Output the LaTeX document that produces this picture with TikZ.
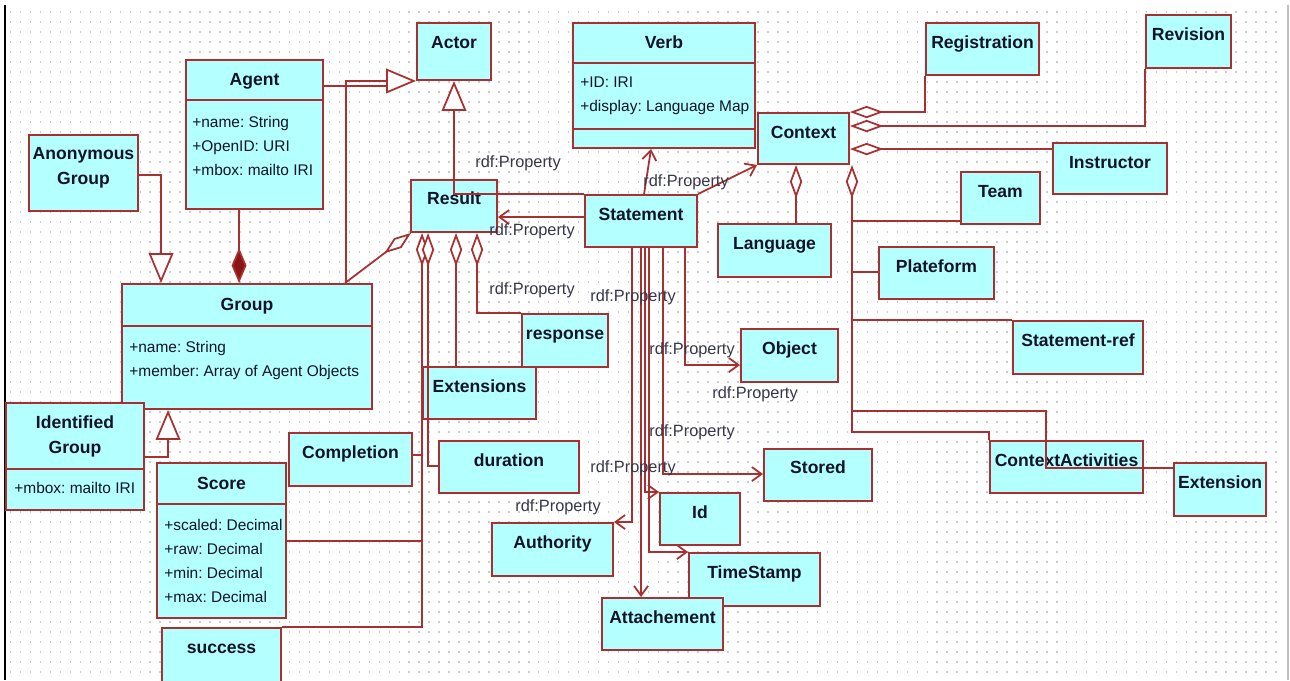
\documentclass[tikz,border=0pt]{standalone}
\usepackage{fontspec}
\setmainfont{Liberation Sans}
\usetikzlibrary{arrows.meta,calc,fit}
\frenchspacing

\definecolor{umlred}{RGB}{168,48,48}
\definecolor{umldark}{RGB}{140,20,20}
\definecolor{umlfill}{RGB}{180,255,255}
\definecolor{umltext}{RGB}{20,20,40}
\definecolor{rdftext}{RGB}{55,55,75}
\definecolor{dotgray}{RGB}{205,205,205}

\tikzset{
  cls/.style={draw=umlred, fill=umlfill, line width=1.1pt, inner sep=0pt},
  ttl/.style={font=\fontsize{10}{14}\selectfont\bfseries, text=umltext, anchor=base, inner sep=0pt},
  ttltwo/.style={font=\fontsize{10}{14.2}\selectfont\bfseries, text=umltext, anchor=north, inner sep=0pt, align=center},
  attr/.style={font=\fontsize{8.8}{13.6}\selectfont, text=umltext, anchor=north west, inner sep=0pt, align=left},
  rdf/.style={font=\fontsize{9.3}{11}\selectfont, text=rdftext, inner sep=0pt},
  link/.style={draw=umlred, line width=1pt},
  prop/.style={link, -{Straight Barb[length=5.5pt,width=8pt]}},
  isa/.style={link, -{Triangle[fill=white,length=17pt,width=14pt]}},
  agg/.style={link, {Diamond[fill=white,length=19pt,width=7pt]}-},
  comp/.style={link, {Diamond[fill=umldark,length=20pt,width=8.5pt]}-},
  dots/.style={draw=dotgray, line width=0.85pt, dash pattern=on 0.85pt off 4.82pt},
}

\begin{document}
\begin{tikzpicture}[x=0.02cm, y=-0.02cm]
\useasboundingbox (0,0) rectangle (1290,680);

% dotted canvas
\foreach \y in {12,22,...,672}
  \draw[dots] (10,\y) -- (1285,\y);
\draw[black, line width=1.2pt] (5,5) -- (5,680);
\draw[gray!50, line width=0.8pt] (1288,5) -- (1288,680);

% classes
\node (actor) [cls, fit={(417,23) (491,80)}] {};
\node (verb) [cls, fit={(573,23) (755,148)}] {};
\node (registration) [cls, fit={(926,23) (1039,75)}] {};
\node (revision) [cls, fit={(1146,15) (1231,68)}] {};
\node (context) [cls, fit={(758,113) (849,164)}] {};
\node (instructor) [cls, fit={(1053,143) (1167,194)}] {};
\node (team) [cls, fit={(961,172) (1040,224)}] {};
\node (agent) [cls, fit={(186,60) (323,209)}] {};
\node (anon) [cls, fit={(29,135) (138,211)}] {};
\node (result) [cls, fit={(411,180) (497,232)}] {};
\node (statement) [cls, fit={(585,195) (697,247)}] {};
\node (language) [cls, fit={(718,224) (831,277)}] {};
\node (plateform) [cls, fit={(879,247) (994,299)}] {};
\node (group) [cls, fit={(122,284) (372,409)}] {};
\node (response) [cls, fit={(522,314) (608,367)}] {};
\node (object) [cls, fit={(741,329) (838,382)}] {};
\node (stmtref) [cls, fit={(1013,321) (1143,374)}] {};
\node (extensions) [cls, fit={(423,367) (536,419)}] {};
\node (identified) [cls, fit={(6,403) (144,510)}] {};
\node (completion) [cls, fit={(289,433) (412,486)}] {};
\node (duration) [cls, fit={(439,441) (579,493)}] {};
\node (ctxact) [cls, fit={(990,441) (1143,493)}] {};
\node (stored) [cls, fit={(764,449) (872,501)}] {};
\node (score) [cls, fit={(157,463) (286,618)}] {};
\node (extension) [cls, fit={(1174,463) (1266,516)}] {};
\node (id) [cls, fit={(660,493) (740,545)}] {};
\node (authority) [cls, fit={(492,523) (613,576)}] {};
\node (timestamp) [cls, fit={(689,553) (820,606)}] {};
\node (attach) [cls, fit={(602,598) (723,650)}] {};
\node (success) [cls, fit={(162,628) (281,690)}] {};

% compartments
\draw[umlred, line width=1.1pt] (agent.west |- 0,100) -- (agent.east |- 0,100);
\draw[umlred, line width=1.1pt] (verb.west |- 0,63) -- (verb.east |- 0,63);
\draw[umlred, line width=1.1pt] (verb.west |- 0,129) -- (verb.east |- 0,129);
\draw[umlred, line width=1.1pt] (group.west |- 0,326) -- (group.east |- 0,326);
\draw[umlred, line width=1.1pt] (identified.west |- 0,469) -- (identified.east |- 0,469);
\draw[umlred, line width=1.1pt] (score.west |- 0,504) -- (score.east |- 0,504);

% titles
\node (actor-t) [ttl] at ($(actor.north)+(0,26)$) {Actor};
\node (verb-t) [ttl] at ($(verb.north)+(0,26)$) {Verb};
\node (registration-t) [ttl] at ($(registration.north)+(0,26)$) {Registration};
\node (revision-t) [ttl] at ($(revision.north)+(0,26)$) {Revision};
\node (context-t) [ttl] at ($(context.north)+(0,26)$) {Context};
\node (instructor-t) [ttl] at ($(instructor.north)+(0,26)$) {Instructor};
\node (team-t) [ttl] at ($(team.north)+(0,26)$) {Team};
\node (agent-t) [ttl] at ($(agent.north)+(0,26)$) {Agent};
\node (anon-t) [ttltwo] at ($(anon.north)+(0,13)$) {Anonymous\\Group};
\node (result-t) [ttl] at ($(result.north)+(0,25)$) {Result};
\node (statement-t) [ttl] at ($(statement.north)+(0,26)$) {Statement};
\node (language-t) [ttl] at ($(language.north)+(0,26)$) {Language};
\node (plateform-t) [ttl] at ($(plateform.north)+(0,26)$) {Plateform};
\node (group-t) [ttl] at ($(group.north)+(0,27)$) {Group};
\node (response-t) [ttl] at ($(response.north)+(0,26)$) {response};
\node (object-t) [ttl] at ($(object.north)+(0,26)$) {Object};
\node (stmtref-t) [ttl] at ($(stmtref.north)+(0,26)$) {Statement-ref};
\node (extensions-t) [ttl] at ($(extensions.north)+(0,26)$) {Extensions};
\node (identified-t) [ttltwo] at ($(identified.north)+(0,13)$) {Identified\\Group};
\node (completion-t) [ttl] at ($(completion.north)+(0,26)$) {Completion};
\node (duration-t) [ttl] at ($(duration.north)+(0,26)$) {duration};
\node (ctxact-t) [ttl] at ($(ctxact.north)+(0,26)$) {ContextActivities};
\node (stored-t) [ttl] at ($(stored.north)+(0,25)$) {Stored};
\node (score-t) [ttl] at ($(score.north)+(0,27)$) {Score};
\node (extension-t) [ttl] at ($(extension.north)+(0,26)$) {Extension};
\node (id-t) [ttl] at ($(id.north)+(0,26)$) {Id};
\node (authority-t) [ttl] at ($(authority.north)+(0,26)$) {Authority};
\node (timestamp-t) [ttl] at ($(timestamp.north)+(0,26)$) {TimeStamp};
\node (attach-t) [ttl] at ($(attach.north)+(0,26)$) {Attachement};
\node (success-t) [ttl] at ($(success.north)+(0,26)$) {success};

% attributes
\node (agent-a) [attr] at (192,116) {+name: String\\+OpenID: URI\\+mbox: mailto IRI};
\node (verb-a) [attr] at (580,77) {+ID: IRI\\+display: Language Map};
\node (group-a) [attr] at (129,341) {+name: String\\+member: Array of Agent Objects};
\node (identified-a) [attr] at (14,482) {+mbox: mailto IRI};
\node (score-a) [attr] at (164,519) {+scaled: Decimal\\+raw: Decimal\\+min: Decimal\\+max: Decimal};

% generalisations
\draw[link] ($(agent.north east)+(0,27)$) -- ++(65,0);
\draw[isa] ($(group.north west)+(225,0)$) |- (actor.south west);
\draw[isa] (statement.north west) -| (actor.south);
\draw[isa] ($(anon.north east)+(0,41)$) -| ($(group.north west)+(40,0)$);
\draw[isa] ($(identified.north east)+(0,55)$) -| ($(group.south west)+(47,0)$);

% composition and aggregations of Result
\draw[comp] ($(group.north west)+(118,0)$) -- ($(agent.south west)+(54,0)$);
\draw[agg] ($(result.south west)+(1,0)$) -- ($(group.north west)+(224,0)$);
\coordinate (restrunk) at ($(result.south west)+(12,0)$);
\draw[agg] (restrunk) |- (success.north east);
\draw[link] ($(completion.north east)+(0,23)$) -- (restrunk |- {$(completion.north east)+(0,23)$});
\draw[link] ($(score.north east)+(0,79)$) -- (restrunk |- {$(score.north east)+(0,79)$});
\draw[agg] ($(result.south west)+(18,0)$) |- ($(duration.north west)+(0,26)$);
\draw[agg] ($(result.south west)+(46,0)$) -- ($(extensions.north west)+(34,0)$);
\draw[agg] ($(result.south west)+(67,0)$) |- (response.north west);

% properties of Statement
\draw[prop] ($(statement.north west)+(0,23)$) -- ($(result.north east)+(0,38)$);
\draw[prop] ($(statement.north west)+(60,0)$) -- ($(verb.south west)+(79,0)$);
\draw[prop] (statement.north east) -- (context.south west);
\draw[prop] ($(statement.south west)+(48,0)$) |- (authority.north east);
\draw[prop] ($(statement.south west)+(57,0)$) -- ($(attach.north west)+(40,0)$);
\draw[prop] ($(statement.south west)+(61,0)$) |- (id.north west);
\draw[prop] ($(statement.south west)+(65,0)$) |- (timestamp.north west);
\draw[prop] ($(statement.south west)+(79,0)$) |- ($(stored.north west)+(0,26)$);
\draw[prop] ($(statement.south west)+(101,0)$) |- ($(object.north west)+(0,37)$);

% aggregations of Context
\draw[agg] (context.north east) -| (registration.south west);
\draw[agg] ($(context.north east)+(0,14)$) -| (revision.south west);
\draw[agg] ($(context.north east)+(0,37)$) -- ($(instructor.north west)+(0,7)$);
\draw[agg] ($(context.south west)+(39,0)$) -- ($(language.north west)+(79,0)$);
\coordinate (ctxtrunk) at ($(context.south east)+(2,0)$);
\draw[agg] (ctxtrunk) |- ($(ctxact.north west)+(0,-8)$) -- (ctxact.north west);
\draw[link] ($(team.south west)+(0,-4)$) -- (ctxtrunk |- {$(team.south west)+(0,-4)$});
\draw[link] ($(plateform.north west)+(0,26)$) -- (ctxtrunk |- {$(plateform.north west)+(0,26)$});
\draw[link] (stmtref.north west) -- (ctxtrunk |- stmtref.north west);
\draw[link] ($(extension.north west)+(0,6)$) -| ($(ctxact.north west)+(57,-29)$) -- (ctxtrunk |- {$(ctxact.north west)+(0,-29)$});

% rdf labels
\node (rdf-actor) [rdf] at (518,163) {rdf:Property};
\node (rdf-verb) [rdf] at (686,182) {rdf:Property};
\node (rdf-result) [rdf] at (532,231) {rdf:Property};
\node (rdf-response) [rdf] at (532,290) {rdf:Property};
\node (rdf-attach) [rdf] at (633,297) {rdf:Property};
\node (rdf-object) [rdf] at (692,350) {rdf:Property};
\node (rdf-object2) [rdf] at (755,394) {rdf:Property};
\node (rdf-stored) [rdf] at (692,432) {rdf:Property};
\node (rdf-id) [rdf] at (633,468) {rdf:Property};
\node (rdf-authority) [rdf] at (558,507) {rdf:Property};

\end{tikzpicture}
\end{document}
